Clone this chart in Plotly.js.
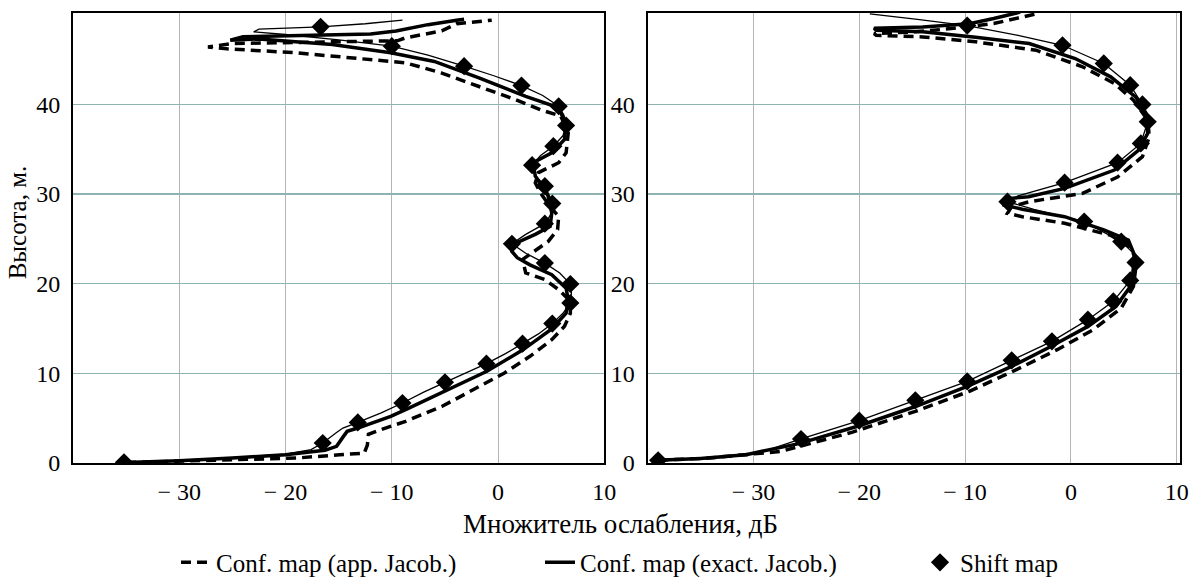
<!DOCTYPE html>
<html>
<head>
<meta charset="utf-8">
<script src="https://cdn.plot.ly/plotly-3.0.1.min.js"></script>
<style>html,body{margin:0;padding:0;background:#fff;}#chart{width:1196px;height:577px;}</style>
</head>
<body>
<div id="chart"></div>
<script>
// ---------- Data ----------
var seriesNames = ["Conf. map (app. Jacob.)", "Conf. map (exact. Jacob.)", "Shift map"];
var xTickVals = [-30, -20, -10, 0, 10];
var xTickText = ["\u2212 30", "\u2212 20", "\u2212 10", "0", "10"];
var yTickVals = [0, 10, 20, 30, 40];
var xTitle = "Множитель ослабления, дБ";
var yTitle = "Высота, м.";

// Left panel
var L_app_x = [-35.0, -30, -23.1, -19.0, -14.9, -12.6, -12.3, -12.2, -11.1, -8.7, -5.3, -1.8, 0.6, 3.0, 5.05, 6.25, 6.8, 6.8, 5.7, 4.4, 2.6, 2.3, 3.7, 4.7, 5.6, 5.7, 4.9, 4.0, 3.5, 3.8, 5.7, 6.4, 6.6, 5.9, 4.0, 1.6, -1.8, -5.3, -8.7, -12.1, -19.0, -25.5, -27.3, -25.0, -20.0, -15.0, -9.5, -8.7, -5.3, -3.9, -0.6];
var L_app_y = [0.05, 0.2, 0.37, 0.55, 0.92, 1.1, 2.0, 3.2, 3.7, 4.65, 6.3, 8.55, 10.04, 11.9, 13.76, 15.25, 16.7, 18.04, 19.34, 20.46, 21.2, 22.7, 23.8, 24.7, 26.04, 27.5, 28.6, 30.1, 31.25, 32.4, 33.5, 34.6, 36.8, 38.7, 39.4, 40.55, 42.0, 43.5, 44.64, 45.0, 45.76, 46.2, 46.4, 46.8, 46.9, 47.0, 47.1, 47.43, 48.2, 49.0, 49.4];

var L_exact_x = [-35.0, -30, -25, -20.0, -16.3, -15.2, -14.55, -14.2, -13.2, -10.1, -8.4, -5.0, -1.1, 2.3, 5.05, 6.4, 6.6, 6.4, 5.05, 3.0, 1.8, 1.3, 1.45, 3.5, 4.9, 5.05, 4.7, 3.5, 3.3, 5.05, 6.25, 6.4, 5.9, 5.05, 2.6, -1.8, -6.0, -10.1, -15.6, -22.5, -25.2, -24.0, -18.0, -12.0, -9.6, -6.6, -3.9, -3.2];
var L_exact_y = [0.05, 0.25, 0.55, 0.92, 1.41, 1.86, 2.97, 3.53, 3.9, 5.2, 6.13, 8.0, 10.2, 12.6, 14.95, 16.7, 18.2, 19.5, 21.0, 22.1, 22.9, 23.6, 24.4, 25.5, 26.4, 27.9, 29.8, 32.0, 33.5, 34.6, 36.1, 37.9, 39.06, 39.9, 40.9, 42.97, 44.8, 45.76, 46.69, 47.3, 47.17, 47.55, 47.7, 47.85, 48.2, 48.9, 49.4, 49.5];

var L_shift_x = [-35.2, -30, -25, -20, -17.6, -16.5, -15.2, -14.6, -13.2, -11.0, -9.0, -7.0, -5.0, -3.1, -1.1, 0.7, 2.3, 3.8, 5.1, 6.1, 6.8, 6.9, 6.8, 5.8, 4.4, 2.6, 1.3, 2.6, 4.4, 5.0, 5.1, 4.8, 4.4, 3.6, 3.2, 4.0, 5.2, 6.1, 6.4, 6.2, 5.7, 4.2, 2.2, -0.4, -3.2, -6.6, -10.0, -15.0, -20.0, -23.0, -22.5, -16.7, -12.5, -9.0];
var L_shift_y = [0.07, 0.25, 0.6, 1.0, 1.5, 2.23, 3.4, 3.9, 4.53, 5.6, 6.69, 7.9, 9.0, 10.0, 11.08, 12.2, 13.31, 14.4, 15.55, 16.7, 17.85, 19.0, 19.97, 21.2, 22.3, 23.4, 24.45, 25.5, 26.7, 27.8, 28.94, 29.9, 30.88, 32.0, 33.22, 34.3, 35.34, 36.5, 37.65, 38.8, 39.8, 41.0, 42.1, 43.2, 44.27, 45.5, 46.5, 47.2, 47.8, 48.1, 48.4, 48.66, 49.0, 49.4];

var L_mark_x = [-35.2, -16.5, -13.2, -9.0, -5.0, -1.1, 2.3, 5.1, 6.8, 6.8, 4.4, 1.3, 4.4, 5.1, 4.4, 3.2, 5.2, 6.4, 5.7, 2.2, -3.2, -10.0, -16.7];
var L_mark_y = [0.07, 2.23, 4.53, 6.69, 9.0, 11.08, 13.31, 15.55, 17.85, 19.97, 22.3, 24.45, 26.7, 28.94, 30.88, 33.22, 35.34, 37.65, 39.8, 42.1, 44.27, 46.5, 48.66];

// Right panel
var R_app_x = [-39.0, -34.1, -27.4, -20.7, -14.7, -9.6, -5.3, -1.3, 2.1, 4.75, 5.9, 6.1, 6.1, 5.6, 3.75, -0.6, -4.6, -6.0, -5.6, -3.95, 1.1, 4.4, 6.75, 7.4, 7.25, 5.9, 4.1, 1.1, -3.3, -9.0, -14.0, -18.4, -18.6, -14.7, -11.3, -7.3, -3.45];
var R_app_y = [0.3, 0.56, 1.3, 3.42, 5.76, 8.0, 10.33, 12.64, 14.87, 17.29, 19.7, 21.56, 22.8, 24.1, 25.4, 26.74, 27.48, 27.86, 28.6, 29.15, 30.08, 31.9, 34.17, 36.4, 38.25, 40.48, 42.34, 44.2, 46.05, 46.98, 47.53, 47.72, 47.9, 48.1, 48.46, 49.02, 50.06];

var R_exact_x = [-39.0, -35, -30.7, -25.7, -20.0, -14.7, -9.8, -5.6, -1.9, 1.6, 4.25, 5.75, 5.9, 6.0, 5.42, 3.1, -0.6, -4.6, -6.3, -6.0, -4.0, -0.6, 4.1, 6.4, 7.25, 7.1, 6.1, 3.75, 0.4, -3.95, -9.0, -14.0, -18.4, -18.6, -14.0, -9.6, -7.3, -4.8];
var R_exact_y = [0.3, 0.5, 0.93, 2.16, 4.16, 6.3, 8.55, 10.78, 13.0, 15.24, 17.47, 19.9, 21.9, 23.2, 24.88, 26.0, 27.48, 28.3, 28.78, 29.5, 29.7, 30.64, 32.68, 34.91, 36.77, 39.0, 40.85, 43.08, 45.12, 46.8, 47.5, 48.1, 48.28, 48.5, 48.65, 49.0, 49.58, 50.3];

var R_shift_x = [-39.0, -33, -29, -25.5, -20.0, -14.7, -9.8, -5.6, -1.8, 1.6, 4.0, 5.6, 6.1, 5.8, 4.75, 1.25, -3.5, -6.0, -5.0, -0.6, 4.4, 6.6, 7.25, 6.75, 5.6, 3.1, -0.8, -5.0, -9.8, -14.5, -19.0];
var R_shift_y = [0.3, 0.6, 1.3, 2.68, 4.72, 6.99, 9.1, 11.45, 13.57, 15.99, 18.03, 20.37, 22.38, 23.5, 24.7, 26.93, 28.3, 29.15, 29.8, 31.27, 33.5, 35.65, 38.07, 40.0, 42.15, 44.57, 46.6, 47.7, 48.8, 49.5, 50.1];

var R_mark_x = [-39.0, -25.5, -20.0, -14.7, -9.8, -5.6, -1.8, 1.6, 4.0, 5.6, 6.1, 4.75, 1.25, -6.0, -0.6, 4.4, 6.6, 7.25, 6.75, 5.6, 3.1, -0.8, -9.8];
var R_mark_y = [0.3, 2.68, 4.72, 6.99, 9.1, 11.45, 13.57, 15.99, 18.03, 20.37, 22.38, 24.7, 26.93, 29.15, 31.27, 33.5, 35.65, 38.07, 40.0, 42.15, 44.57, 46.6, 48.8];

// ---------- Styles ----------
var FONT = "Liberation Serif";
var appLine = {color: "#000", width: 3.5, dash: "10px,6px"};
var exactLine = {color: "#000", width: 3.5};
var shiftLine = {color: "#000", width: 1.3};
var shiftMarker = {symbol: "diamond", size: 14, color: "#000"};

function panel(xa, ya, ax, ay, ex, ey, sx, sy, legendOn) {
  return [
    {x: ax, y: ay, xaxis: xa, yaxis: ya, mode: "lines", line: appLine, name: seriesNames[0],
     legend: "legend", showlegend: legendOn},
    {x: ex, y: ey, xaxis: xa, yaxis: ya, mode: "lines", line: exactLine, name: seriesNames[1],
     legend: "legend2", showlegend: legendOn},
    {x: sx, y: sy, xaxis: xa, yaxis: ya, mode: "lines", line: shiftLine, name: seriesNames[2],
     showlegend: false}
  ];
}

var traces = [];
traces = traces.concat(panel("x", "y", L_app_x, L_app_y, L_exact_x, L_exact_y, L_shift_x, L_shift_y, true));
traces.push({x: L_mark_x, y: L_mark_y, xaxis: "x", yaxis: "y", mode: "markers", marker: shiftMarker,
  name: seriesNames[2], legend: "legend3", showlegend: true});
traces = traces.concat(panel("x2", "y2", R_app_x, R_app_y, R_exact_x, R_exact_y, R_shift_x, R_shift_y, false));
traces.push({x: R_mark_x, y: R_mark_y, xaxis: "x2", yaxis: "y2", mode: "markers", marker: shiftMarker,
  name: seriesNames[2], showlegend: false});

function xAxis(domain, range, anchor) {
  return {domain: domain, range: range, anchor: anchor, tickmode: "array", tickvals: xTickVals, ticktext: xTickText,
    showgrid: true, gridcolor: "#b4b4b4", gridwidth: 1, zeroline: false, showline: true, mirror: true,
    linecolor: "#000", linewidth: 2, ticks: "", ticklabelstandoff: 6, automargin: false,
    tickfont: {family: FONT, size: 24, color: "#000"}};
}
function yAxis(range, anchor) {
  return {domain: [0, 1], range: range, anchor: anchor, tickmode: "array", tickvals: yTickVals,
    showgrid: true, gridcolor: "#8fb2b2", gridwidth: 1.5, zeroline: false, showline: true, mirror: true,
    linecolor: "#000", linewidth: 2, ticks: "", ticklabelstandoff: 6, automargin: false,
    tickfont: {family: FONT, size: 24, color: "#000"}};
}

var legendBase = {orientation: "h", xref: "container", yref: "container", yanchor: "middle", y: 0.025,
  xanchor: "left", bgcolor: "rgba(0,0,0,0)", font: {family: FONT, size: 25, color: "#000"}};

var layout = {
  width: 1196, height: 577,
  margin: {l: 73, r: 16, t: 13, b: 114, autoexpand: false},
  paper_bgcolor: "#fff", plot_bgcolor: "#fff",
  font: {family: FONT, size: 24, color: "#000"},
  xaxis: xAxis([0, 0.48], [-40, 10], "y"),
  yaxis: yAxis([0, 50.2], "x"),
  xaxis2: xAxis([0.519, 1], [-40, 10.3], "y2"),
  yaxis2: yAxis([0, 50.2], "x2"),
  legend: Object.assign({}, legendBase, {x: 176 / 1196}),
  legend2: Object.assign({}, legendBase, {x: 540 / 1196}),
  legend3: Object.assign({}, legendBase, {x: 920 / 1196}),
  annotations: [
    {text: xTitle, xref: "paper", yref: "paper", x: 0.495, y: -0.135, xanchor: "center", yanchor: "middle",
     showarrow: false, font: {family: FONT, size: 27, color: "#000"}},
    {text: yTitle, xref: "paper", yref: "paper", x: -0.05, y: 0.534, xanchor: "center", yanchor: "middle",
     textangle: -90, showarrow: false, font: {family: FONT, size: 25, color: "#000"}}
  ],
  showlegend: true
};

Plotly.newPlot("chart", traces, layout, {displayModeBar: false, staticPlot: true});
</script>
</body>
</html>
